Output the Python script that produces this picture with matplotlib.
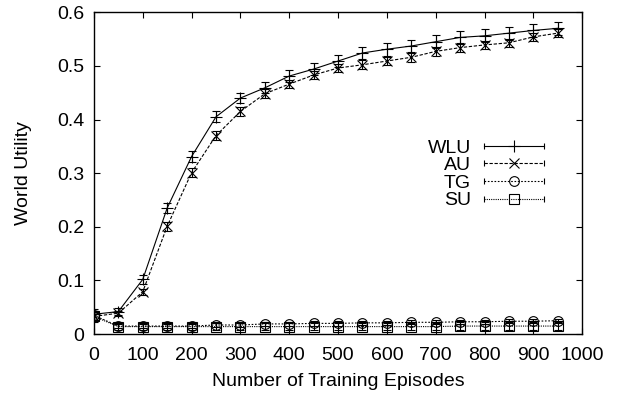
import matplotlib
matplotlib.use("Agg")
import matplotlib.pyplot as plt
from matplotlib.lines import Line2D
from matplotlib.legend_handler import HandlerLine2D, HandlerTuple

plt.rcParams['font.family'] = ['Liberation Sans', 'DejaVu Sans']

episodes = [0, 50, 100, 150, 200, 250, 300, 350, 400, 450, 500, 550, 600, 650, 700, 750, 800, 850, 900, 950]
wlu = [0.037, 0.042, 0.102, 0.235, 0.331, 0.405, 0.440, 0.459, 0.481, 0.494, 0.509, 0.524, 0.531, 0.537, 0.545, 0.553, 0.556, 0.561, 0.566, 0.570]
wlu_err = [0.010, 0.006, 0.008, 0.010, 0.010, 0.010, 0.010, 0.010, 0.011, 0.011, 0.011, 0.011, 0.012, 0.012, 0.012, 0.012, 0.012, 0.012, 0.012, 0.012]
au = [0.033, 0.039, 0.079, 0.201, 0.301, 0.370, 0.415, 0.448, 0.466, 0.483, 0.496, 0.502, 0.509, 0.516, 0.527, 0.534, 0.539, 0.543, 0.554, 0.561]
au_err = [0.008, 0.005, 0.006, 0.008, 0.008, 0.008, 0.008, 0.008, 0.008, 0.008, 0.008, 0.008, 0.008, 0.008, 0.008, 0.008, 0.008, 0.008, 0.008, 0.008]
tg = [0.035, 0.015, 0.015, 0.015, 0.015, 0.017, 0.017, 0.019, 0.019, 0.020, 0.020, 0.021, 0.021, 0.022, 0.022, 0.023, 0.023, 0.024, 0.024, 0.025]
tg_err = [0.008] + [0.004] * 19
su = [0.033, 0.014, 0.014, 0.014, 0.014, 0.014, 0.014, 0.014, 0.014, 0.014, 0.014, 0.014, 0.014, 0.014, 0.014, 0.015, 0.015, 0.015, 0.015, 0.015]
su_err = [0.010] + [0.007] * 19

labels = ["WLU", "AU", "TG", "SU"]

fig = plt.figure(figsize=(6.18, 3.94), dpi=100)
ax = fig.add_axes([0.152, 0.152, 0.790, 0.817])

series = [
    (wlu, wlu_err, '-', '+', 8, None),
    (au, au_err, (0, (3, 1.5)), 'x', 7, None),
    (tg, tg_err, (0, (1.5, 1.5)), 'o', 7, 'none'),
    (su, su_err, (0, (1, 1)), 's', 7, 'none'),
]
handles = []
for (vals, errs, ls, mk, ms, mfc), lab in zip(series, labels):
    ax.errorbar(episodes, vals, yerr=errs, color='black', linestyle=ls, linewidth=0.8,
                marker=mk, markersize=ms, markerfacecolor=mfc if mfc else 'black',
                markeredgewidth=0.8, capsize=3, elinewidth=0.8, capthick=0.8)
    ln = Line2D([], [], color='black', linestyle=ls, linewidth=0.8,
                marker=mk, markersize=ms, markerfacecolor=mfc if mfc else 'black',
                markeredgewidth=0.8)
    ends = Line2D([], [], color='black', linestyle='none', marker='|', markersize=4,
                  markeredgewidth=0.8)
    handles.append((ln, ends))

hmap = {}
for ln, ends in handles:
    hmap[ln] = HandlerLine2D(numpoints=1)
    hmap[ends] = HandlerLine2D(numpoints=2, marker_pad=0.0)
hmap[tuple] = HandlerTuple(ndivide=1, pad=0)

ax.legend(handles, labels, loc='center right', bbox_to_anchor=(0.938, 0.497), frameon=False,
          markerfirst=False, fontsize=14, handlelength=3.1, labelspacing=0.0,
          handletextpad=0.65, borderaxespad=0, handler_map=hmap)

ax.set_xlim(0, 1000)
ax.set_ylim(0, 0.6)
ax.set_xticks(range(0, 1001, 100))
ax.set_yticks([0, 0.1, 0.2, 0.3, 0.4, 0.5, 0.6])
ax.set_yticklabels(["0", "0.1", "0.2", "0.3", "0.4", "0.5", "0.6"])
ax.tick_params(axis='x', pad=9)
ax.tick_params(axis='y', pad=7)
ax.tick_params(direction='in', top=True, right=True, labelsize=14, length=4.5, width=0.8)
for s in ax.spines.values():
    s.set_linewidth(1.0)
ax.set_xlabel("Number of Training Episodes", fontsize=14, labelpad=7)
ax.set_ylabel("World Utility", fontsize=14, labelpad=18)

fig.savefig("out.png", dpi=100)
